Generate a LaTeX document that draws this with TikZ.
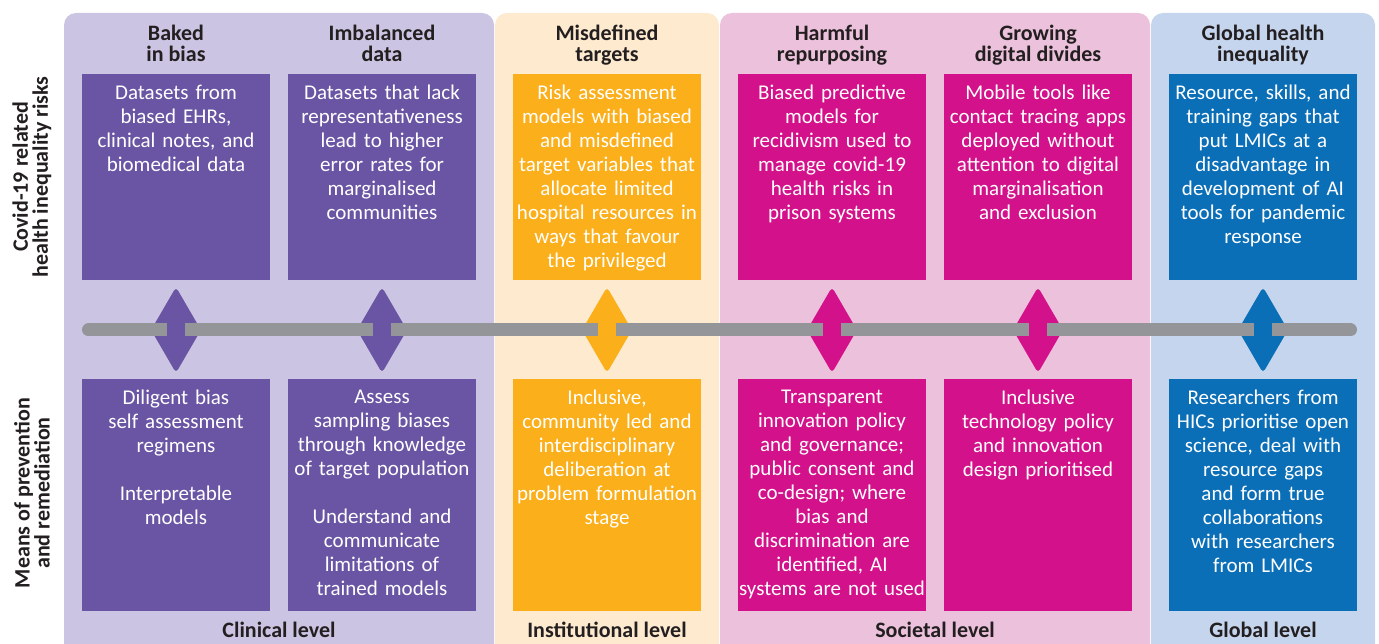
\documentclass[tikz,border=0pt]{standalone}
\usepackage{fontspec}
\setmainfont{Carlito}
\usepackage{tikz}
\usetikzlibrary{shapes.geometric,positioning}

\definecolor{clinbg}{HTML}{CBC4E2}
\definecolor{clin}{HTML}{6A55A4}
\definecolor{instbg}{HTML}{FEEACF}
\definecolor{inst}{HTML}{FBAF1A}
\definecolor{socbg}{HTML}{ECC1DB}
\definecolor{soc}{HTML}{D3118A}
\definecolor{globbg}{HTML}{C6D5EE}
\definecolor{glob}{HTML}{0B6FB8}
\definecolor{bargray}{HTML}{939598}
\definecolor{ink}{HTML}{231F20}

\begin{document}
\begin{tikzpicture}[x=1pt,y=-1pt]
		\tikzstyle{panel}=[rounded corners=12pt]
		\tikzstyle{riskbox}=[rectangle,anchor=north,minimum width=188pt,minimum height=206pt,inner sep=0pt]
		\tikzstyle{remedybox}=[rectangle,anchor=north,minimum width=188pt,minimum height=232pt,inner sep=0pt]
		\tikzstyle{boxtext}=[anchor=north,text width=188pt,align=center,inner xsep=0pt,inner ysep=11pt,text=white,font=\fontsize{21pt}{24pt}\selectfont]
		\tikzstyle{title}=[anchor=north,align=center,inner sep=0pt,text=ink,font=\fontsize{22pt}{21pt}\selectfont\bfseries]
		\tikzstyle{levelname}=[anchor=base,inner sep=0pt,text=ink,font=\fontsize{22pt}{21pt}\selectfont\bfseries]
		\tikzstyle{sidetitle}=[rotate=90,align=center,inner sep=0pt,text=ink,font=\fontsize{22pt}{20pt}\selectfont\bfseries]
		\tikzstyle{twoway}=[diamond,minimum width=50pt,minimum height=86pt,inner sep=0pt,rounded corners=4pt]
		\tikzstyle{timeline}=[line width=13pt,line cap=round,bargray]
		\tikzstyle{stem}=[line width=18pt,shorten <=30pt,shorten >=30pt]
		\useasboundingbox (0,0) rectangle (1379,644);
		\clip (0,0) rectangle (1379,644);
		% level panels
		\fill [panel,clinbg] (64,680) -- (64,13) -- (494,13) -- (494,680) -- cycle;
		\fill [panel,instbg] (495,680) -- (495,13) -- (719,13) -- (719,680) -- cycle;
		\fill [panel,socbg] (720,680) -- (720,13) -- (1150,13) -- (1150,680) -- cycle;
		\fill [panel,globbg] (1151,680) -- (1151,13) -- (1375,13) -- (1375,680) -- cycle;
		% side titles
		\node [sidetitle] at (32,177) (risks) {Covid-19 related\\health inequality risks};
		\node [sidetitle] at (32,493) (means) {Means of prevention\\and remediation};
		% risk titles
		\node [title] at (176,25) (t1) {Baked\\in bias};
		\node [title] at (382,25) (t2) {Imbalanced\\data};
		\node [title] at (607,25) (t3) {Misdefined\\targets};
		\node [title] at (832,25) (t4) {Harmful\\repurposing};
		\node [title] at (1038,25) (t5) {Growing\\digital divides};
		\node [title] at (1263,25) (t6) {Global health\\inequality};
		% risks
		\node [riskbox,fill=clin] at (176,74) (r1) {};
		\node [riskbox,fill=clin] at (382,74) (r2) {};
		\node [riskbox,fill=inst] at (607,74) (r3) {};
		\node [riskbox,fill=soc] at (832,74) (r4) {};
		\node [riskbox,fill=soc] at (1038,74) (r5) {};
		\node [riskbox,fill=glob] at (1263,74) (r6) {};
		\node [boxtext] at (r1.north) (r1t) {Datasets from\\biased EHRs,\\clinical notes, and\\biomedical data};
		\node [boxtext] at (r2.north) (r2t) {Datasets that lack\\representativeness\\lead to higher\\error rates for\\marginalised\\communities};
		\node [boxtext] at (r3.north) (r3t) {Risk assessment\\models with biased\\and misdefined\\target variables that\\allocate limited\\hospital resources in\\ways that favour\\the privileged};
		\node [boxtext] at (r4.north) (r4t) {Biased predictive\\models for\\recidivism used to\\manage covid-19\\health risks in\\prison systems};
		\node [boxtext] at (r5.north) (r5t) {Mobile tools like\\contact tracing apps\\deployed without\\attention to digital\\marginalisation\\and exclusion};
		\node [boxtext] at (r6.north) (r6t) {Resource, skills, and\\training gaps that\\put LMICs at a\\disadvantage in\\development of AI\\tools for pandemic\\response};
		% remedies
		\node [remedybox,fill=clin] at (176,379) (m1) {};
		\node [remedybox,fill=clin] at (382,379) (m2) {};
		\node [remedybox,fill=inst] at (607,379) (m3) {};
		\node [remedybox,fill=soc] at (832,379) (m4) {};
		\node [remedybox,fill=soc] at (1038,379) (m5) {};
		\node [remedybox,fill=glob] at (1263,379) (m6) {};
		\node [boxtext] at (m1.north) (m1t) {Diligent bias\\self assessment\\regimens\\[24pt]Interpretable\\models};
		\node [boxtext] at (m2.north) (m2t) {Assess\\sampling biases\\through knowledge\\of target population\\[24pt]Understand and\\communicate\\limitations of\\trained models};
		\node [boxtext] at (m3.north) (m3t) {Inclusive,\\community led and\\interdisciplinary\\deliberation at\\problem formulation\\stage};
		\node [boxtext] at (m4.north) (m4t) {Transparent\\innovation policy\\and governance;\\public consent and\\co-design; where\\bias and\\discrimination are\\identified, AI\\systems are not used};
		\node [boxtext] at (m5.north) (m5t) {Inclusive\\technology policy\\and innovation\\design prioritised};
		\node [boxtext] at (m6.north) (m6t) {Researchers from\\HICs prioritise open\\science, deal with\\resource gaps\\and form true\\collaborations\\with researchers\\from LMICs};
		% two-way arrows
		\node [twoway,fill=clin] at (176,330) (d1) {};
		\node [twoway,fill=clin] at (382,330) (d2) {};
		\node [twoway,fill=inst] at (607,330) (d3) {};
		\node [twoway,fill=soc] at (832,330) (d4) {};
		\node [twoway,fill=soc] at (1038,330) (d5) {};
		\node [twoway,fill=glob] at (1263,330) (d6) {};
		% timeline
		\coordinate (bl) at (88.5,330);
		\coordinate (br) at (1350.5,330);
		\draw [timeline] (bl) -- (br);
		\draw [stem,clin] (d1.north) -- (d1.south);
		\draw [stem,clin] (d2.north) -- (d2.south);
		\draw [stem,inst] (d3.north) -- (d3.south);
		\draw [stem,soc] (d4.north) -- (d4.south);
		\draw [stem,soc] (d5.north) -- (d5.south);
		\draw [stem,glob] (d6.north) -- (d6.south);
		% levels
		\node [levelname] at (279,637) (clinical) {Clinical level};
		\node [levelname] at (607,637) (institutional) {Institutional level};
		\node [levelname] at (935,637) (societal) {Societal level};
		\node [levelname] at (1263,637) (global) {Global level};
	\end{tikzpicture}
\end{document}
